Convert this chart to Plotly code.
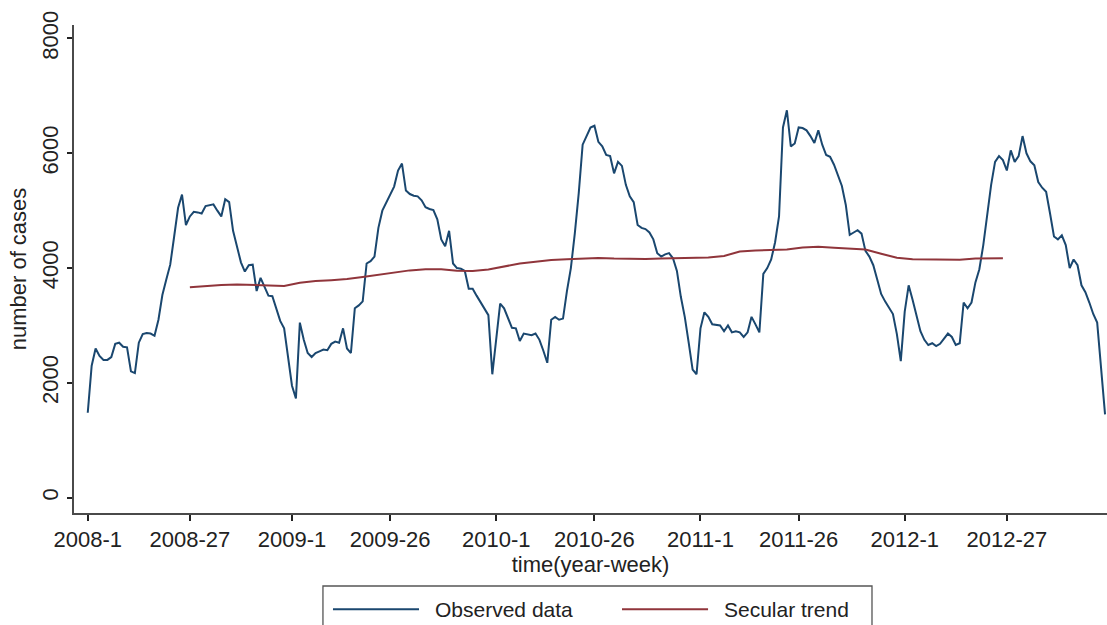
import plotly.graph_objects as go

# Weekly reporting periods, 52 weeks per year
years = [2008, 2009, 2010, 2011, 2012]
weeks_per_year = 52
week_labels = [f"{y}-{w}" for y in years for w in range(1, weeks_per_year + 1)]

# Observed weekly number of cases (2008-1 ... 2012-52)
observed_cases = [
    1480, 2300, 2600, 2470, 2400, 2400, 2450, 2680, 2700, 2630,
    2620, 2200, 2170, 2700, 2850, 2870, 2860, 2820, 3100, 3530,
    3800, 4060, 4550, 5050, 5280, 4750, 4900, 4980, 4970, 4950,
    5080, 5100, 5110, 5000, 4900, 5200, 5150, 4650, 4350, 4100,
    3940, 4050, 4060, 3600, 3830, 3680, 3520, 3510, 3300, 3080,
    2950, 2480, 1950, 1730, 3050, 2750, 2520, 2450, 2520, 2550,
    2580, 2570, 2680, 2720, 2700, 2950, 2600, 2520, 3300, 3350,
    3420, 4080, 4120, 4200, 4700, 5000, 5150, 5300, 5420, 5700,
    5820, 5350, 5290, 5260, 5250, 5180, 5060, 5030, 5010, 4850,
    4500, 4380, 4650, 4080, 4000, 3990, 3950, 3640, 3640, 3520,
    3400, 3300, 3180, 2150, 2800, 3380, 3300, 3130, 2960, 2950,
    2730, 2860, 2840, 2830, 2860, 2750, 2560, 2350, 3100, 3150,
    3100, 3120, 3600, 4000, 4600, 5300, 6150, 6300, 6450, 6480,
    6200, 6120, 5970, 5950, 5650, 5850, 5780, 5450, 5250, 5150,
    4750, 4700, 4680, 4620, 4500, 4260, 4200, 4240, 4260, 4170,
    3950, 3500, 3150, 2700, 2230, 2150, 2950, 3230, 3150, 3020,
    3010, 3000, 2900, 3000, 2880, 2900, 2880, 2800, 2880, 3150,
    3020, 2880, 3900, 4000, 4150, 4450, 4900, 6450, 6750, 6120,
    6170, 6450, 6440, 6400, 6300, 6180, 6400, 6150, 5970, 5940,
    5800, 5620, 5430, 5100, 4580, 4620, 4660, 4600, 4300, 4200,
    4050, 3800, 3550, 3420, 3300, 3200, 2850, 2380, 3240, 3700,
    3450, 3150, 2900, 2750, 2660, 2690, 2640, 2680, 2780, 2860,
    2800, 2660, 2690, 3400, 3300, 3400, 3750, 3980, 4400, 4900,
    5450, 5850, 5950, 5880, 5700, 6050, 5850, 5950, 6300, 6000,
    5860, 5790, 5500, 5400, 5330, 4950, 4550, 4500, 4570, 4400,
    4000, 4150, 4050, 3700, 3580, 3400, 3200, 3050, 2300, 1450,
]

# Secular trend, sampled every four weeks from 2008-27 to 2012-26
trend_weeks = [
    "2008-27", "2008-31", "2008-35", "2008-39", "2008-43", "2008-47", "2008-51",
    "2009-3", "2009-7", "2009-11", "2009-15", "2009-19", "2009-23", "2009-27",
    "2009-31", "2009-35", "2009-39", "2009-43", "2009-47", "2009-51",
    "2010-3", "2010-7", "2010-11", "2010-15", "2010-19", "2010-23", "2010-27",
    "2010-31", "2010-35", "2010-39", "2010-43", "2010-47", "2010-51",
    "2011-3", "2011-7", "2011-11", "2011-15", "2011-19", "2011-23", "2011-27",
    "2011-31", "2011-35", "2011-39", "2011-43", "2011-47", "2011-51",
    "2012-3", "2012-7", "2012-11", "2012-15", "2012-19", "2012-23", "2012-26",
]
trend_cases = [
    3665, 3690, 3705, 3715, 3705, 3695, 3690,
    3745, 3775, 3790, 3810, 3845, 3880, 3925,
    3960, 3980, 3980, 3955, 3950, 3975,
    4030, 4080, 4110, 4140, 4155, 4165, 4175,
    4165, 4160, 4160, 4165, 4170, 4175,
    4185, 4210, 4290, 4305, 4310, 4325, 4360,
    4370, 4355, 4335, 4325, 4250, 4180,
    4155, 4150, 4140, 4145, 4165, 4170, 4170,
]

tick_weeks = ["2008-1", "2008-27", "2009-1", "2009-26", "2010-1",
              "2010-26", "2011-1", "2011-26", "2012-1", "2012-27"]
y_ticks = [0, 2000, 4000, 6000, 8000]

BLUE = "#1a476f"
MAROON = "#90353b"
AXIS = "#4a4a4a"
TEXT = "#222222"
FONT = "Liberation Sans, Arial, sans-serif"

fig = go.Figure()
fig.add_trace(go.Scatter(
    x=week_labels, y=observed_cases, mode="lines", name="Observed data",
    line=dict(color=BLUE, width=2), showlegend=False,
))
fig.add_trace(go.Scatter(
    x=trend_weeks, y=trend_cases, mode="lines", name="Secular trend",
    line=dict(color=MAROON, width=2), showlegend=False,
))

# Boxed key below the plot
key_y = -0.197
shapes = [
    dict(type="rect", xref="paper", yref="paper", x0=0.241, x1=0.7725,
         y0=-0.27, y1=-0.1496, line=dict(color="#555555", width=1.3),
         fillcolor="white", layer="above"),
    dict(type="line", xref="paper", yref="paper", x0=0.2507, x1=0.334,
         y0=key_y, y1=key_y, line=dict(color=BLUE, width=2)),
    dict(type="line", xref="paper", yref="paper", x0=0.5305, x1=0.6138,
         y0=key_y, y1=key_y, line=dict(color=MAROON, width=2)),
]
annotations = [
    dict(text="Observed data", xref="paper", yref="paper", x=0.3475, y=key_y,
         xanchor="left", yanchor="middle", showarrow=False,
         font=dict(size=21, color=TEXT, family=FONT)),
    dict(text="Secular trend", xref="paper", yref="paper", x=0.6273, y=key_y,
         xanchor="left", yanchor="middle", showarrow=False,
         font=dict(size=21, color=TEXT, family=FONT)),
]

fig.update_layout(
    width=1107, height=625,
    margin=dict(l=74, r=0, t=25, b=112),
    paper_bgcolor="white", plot_bgcolor="white",
    font=dict(family=FONT, size=22, color=TEXT),
    shapes=shapes, annotations=annotations,
    showlegend=False,
)
fig.update_xaxes(
    type="category", categoryorder="array", categoryarray=week_labels,
    range=[-3.5, 259.5],
    tickmode="array", tickvals=tick_weeks, ticktext=tick_weeks,
    ticks="outside", ticklen=6, tickwidth=1.5, tickcolor="#222222",
    showline=True, linecolor=AXIS, linewidth=1.5,
    showgrid=False, zeroline=False,
    title=dict(text="time(year-week)", standoff=2, font=dict(size=22)),
    tickfont=dict(size=22),
)
fig.update_yaxes(
    range=[-267, 8235],
    tickmode="array", tickvals=y_ticks, ticktext=[str(v) for v in y_ticks],
    tickangle=-90,
    ticks="outside", ticklen=5, tickwidth=1.5, tickcolor="#222222",
    showline=True, linecolor=AXIS, linewidth=1.5,
    showgrid=False, zeroline=False,
    title=dict(text="number of cases", standoff=6, font=dict(size=22)),
    tickfont=dict(size=22),
)

fig.write_html("out.html")
